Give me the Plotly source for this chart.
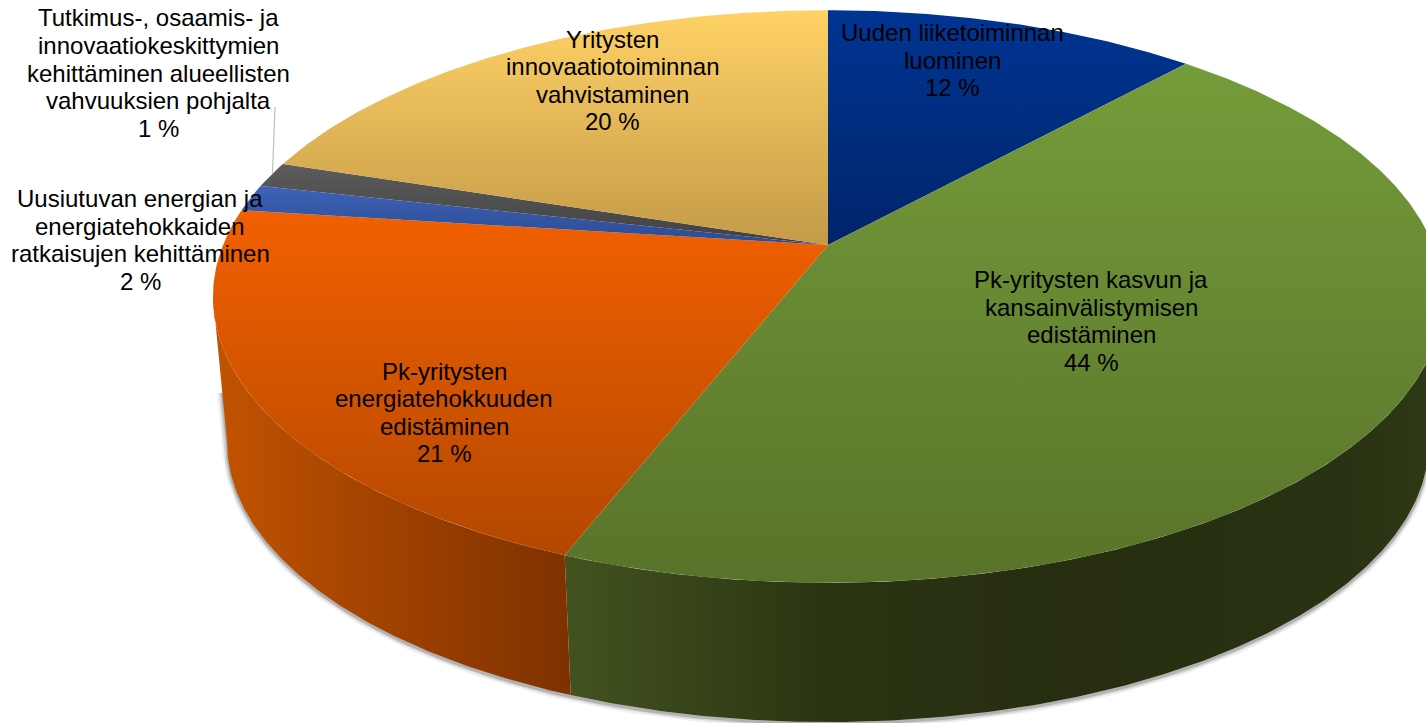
import numpy as np
import plotly.graph_objects as go

# ---- data (percent, clockwise from the top) ----
categories = [
    "Uuden liiketoiminnan<br>luominen",
    "Pk-yritysten kasvun ja<br>kansainvälistymisen<br>edistäminen",
    "Pk-yritysten<br>energiatehokkuuden<br>edistäminen",
    "Uusiutuvan energian ja<br>energiatehokkaiden<br>ratkaisujen kehittäminen",
    "Tutkimus-, osaamis- ja<br>innovaatiokeskittymien<br>kehittäminen alueellisten<br>vahvuuksien pohjalta",
    "Yritysten<br>innovaatiotoiminnan<br>vahvistaminen",
]
values = [11.7, 44.2, 21.15, 1.5, 1.45, 20.0]
percent_labels = ["12 %", "44 %", "21 %", "2 %", "1 %", "20 %"]

# ---- styles ----
top_colors = [
    ("#00246a", "#003593"),
    ("#59732a", "#759c3a"),
    ("#b34800", "#f26000"),
    ("#2c4a90", "#3d62b8"),
    ("#404040", "#5c5c5c"),
    ("#c49a48", "#ffd266"),
]
wall_colors = {
    1: [[0, "#43531f"], [0.3, "#2a3412"], [0.6, "#262d10"], [0.9, "#293313"], [1, "#2f3a15"]],
    2: [[0, "#c25400"], [0.5, "#9f4100"], [1, "#7e3100"]],
}
label_pos = [(952, 60), (1091, 321), (444, 412.5), (140, 240), (158, 73), (612, 80.5)]
LINE_PITCH = 27.6

# ---- projection of the tilted disc onto the page ----
CX, CY, A, B, K = 828, 245, 605, 277, 0.18
DROP_Y, SCALE = 392, 0.977
SIL_RIGHT = np.pi - np.arccos(K)      # leftmost / rightmost silhouette of the disc
SIL_LEFT = np.pi + np.arccos(K)
SHADOW_RISE = 0.35                    # how far the shadow climbs the silhouette edge


def project(theta, bottom=False):
    u, v = np.sin(theta), -np.cos(theta)
    d = 1 - K * v
    x, y = A * u / d, B * v / d
    if bottom:
        return CX + SCALE * x, DROP_Y + SCALE * y
    return CX + x, CY + y


edges = np.radians(np.concatenate([[0], np.cumsum(values)]) * 3.6)
fig = go.Figure()


def arc(a, b):
    return np.linspace(a, b, max(int(abs(b - a) * 120), 8))


# soft shadow under the base, climbing a little up both silhouette edges
th = arc(SIL_RIGHT, SIL_LEFT)
sx, sy = project(th, True)
rtx, rty = project(SIL_RIGHT)
ltx, lty = project(SIL_LEFT)
sx = np.concatenate([[sx[0] + SHADOW_RISE * (rtx - sx[0])], sx, [sx[-1] + SHADOW_RISE * (ltx - sx[-1])]])
sy = np.concatenate([[sy[0] + SHADOW_RISE * (rty - sy[0])], sy, [sy[-1] + SHADOW_RISE * (lty - sy[-1])]])
for w, op in [(10, 0.08), (6, 0.15), (3, 0.25)]:
    fig.add_trace(go.Scatter(x=sx, y=sy + 1.5, mode="lines", hoverinfo="skip",
                             line=dict(color=f"rgba(70,70,70,{op})", width=w)))

# side walls, limited to the visible front of the disc
wall_spans = {1: (SIL_RIGHT, edges[2]), 2: (edges[2], SIL_LEFT)}
for i, cs in wall_colors.items():
    th = arc(*wall_spans[i])
    tx, ty = project(th)
    bx, by = project(th, True)
    fig.add_trace(go.Scatter(
        x=np.concatenate([tx, bx[::-1]]), y=np.concatenate([ty, by[::-1]]),
        mode="lines", fill="toself", line=dict(width=0), hoverinfo="skip",
        fillgradient=dict(type="horizontal", colorscale=cs),
    ))

# top faces
for i in range(len(values)):
    th = arc(edges[i], edges[i + 1])
    px, py = project(th)
    x = np.concatenate([[CX], px, [CX]])
    y = np.concatenate([[CY], py, [CY]])
    c0, c1 = top_colors[i]
    fig.add_trace(go.Scatter(
        x=x, y=y, mode="lines", fill="toself", line=dict(width=0), hoverinfo="skip",
        fillgradient=dict(type="vertical", colorscale=[[0, c0], [1, c1]]),
    ))

annotations = []
for c, p, (lx, ly) in zip(categories, percent_labels, label_pos):
    lines = c.split("<br>") + [p]
    for n, line in enumerate(lines):
        annotations.append(dict(
            x=lx, y=ly + (n - (len(lines) - 1) / 2) * LINE_PITCH, xref="x", yref="y",
            text=line, showarrow=False, align="center", xanchor="center", yanchor="middle",
            font=dict(family="Liberation Sans, Arial", size=24, color="#000000")))

fig.update_layout(
    width=1426, height=723, margin=dict(l=0, r=0, t=0, b=0),
    paper_bgcolor="white", plot_bgcolor="white", showlegend=False,
    xaxis=dict(range=[0, 1426], visible=False, fixedrange=True),
    yaxis=dict(range=[723, 0], visible=False, fixedrange=True),
    annotations=annotations,
    shapes=[dict(type="line", xref="x", yref="y", x0=275, y0=107, x1=272.5, y1=173,
                 line=dict(color="#bfbfbf", width=1.2))],
)
fig.write_html("out.html", post_script="document.body.style.margin='0';",
               config={"displayModeBar": False})
